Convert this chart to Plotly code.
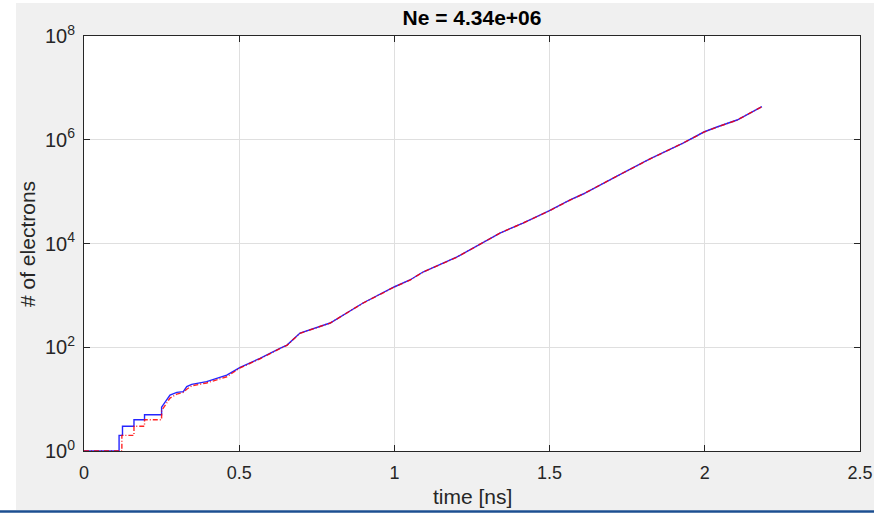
import plotly.graph_objects as go

# ---- data ----
t_blue = [0.0, 0.113, 0.113, 0.124, 0.124, 0.161, 0.161, 0.195, 0.195, 0.250, 0.250,
          0.261, 0.277, 0.299, 0.320, 0.331, 0.347, 0.395, 0.460, 0.503, 0.567,
          0.631, 0.654, 0.696, 0.793, 0.899, 0.999, 1.050, 1.092, 1.202, 1.276,
          1.340, 1.414, 1.498, 1.566, 1.608, 1.717, 1.823, 1.930, 1.997, 2.039,
          2.104, 2.184]
n_blue = [1, 1, 2, 2, 3, 3, 4, 4, 5, 5, 7,
          8.9, 12, 13.5, 13.9, 17.4, 19.3, 21.7, 29, 41, 61,
          95, 110, 188, 293, 713, 1450, 1980, 2820, 5500, 9770,
          15900, 24800, 42400, 69000, 90000, 200000, 426000, 865000, 1410000, 1760000,
          2400000, 4340000]

t_red = [0.0, 0.122, 0.122, 0.161, 0.161, 0.195, 0.195, 0.250, 0.250,
         0.261, 0.277, 0.299, 0.320, 0.331, 0.347, 0.395, 0.460, 0.503, 0.567,
         0.631, 0.654, 0.696, 0.793, 0.899, 0.999, 1.050, 1.092, 1.202, 1.276,
         1.340, 1.414, 1.498, 1.566, 1.608, 1.717, 1.823, 1.930, 1.997, 2.039,
         2.104, 2.184]
n_red = [1, 1, 2, 2, 3, 3, 4, 4, 6,
         7.5, 10.5, 12.5, 13.5, 15.5, 18, 20.5, 27, 40, 60,
         94, 109, 186, 292, 710, 1440, 1970, 2800, 5480, 9750,
         15850, 24700, 42300, 68800, 89800, 199000, 425000, 863000, 1400000, 1750000,
         2390000, 4340000]

x_ticks = [0, 0.5, 1, 1.5, 2, 2.5]
x_ticktext = ["0", "0.5", "1", "1.5", "2", "2.5"]
y_ticks = [1, 1e2, 1e4, 1e6, 1e8]
y_ticktext = ["10<sup>0</sup>", "10<sup>2</sup>", "10<sup>4</sup>", "10<sup>6</sup>", "10<sup>8</sup>"]

title_text = "Ne = 4.34e+06"
x_label = "time [ns]"
y_label = "# of electrons"

FONT = "Liberation Sans, Arial, Helvetica, sans-serif"
AX = "#262626"

fig = go.Figure()
fig.add_trace(go.Scatter(x=t_blue, y=n_blue, mode="lines",
                         line=dict(color="#0000ff", width=1.4), opacity=0.85, showlegend=False))
fig.add_trace(go.Scatter(x=t_red, y=n_red, mode="lines",
                         line=dict(color="#ff0000", width=1.4, dash="5px,2px,1px,2px"),
                         opacity=0.85, showlegend=False))

W, H = 874, 516
L, R, T, B = 84, 14, 36, 65
pw, ph = W - L - R, H - T - B

def px(X):
    return (X - L) / pw

def py(Y):
    return (H - B - Y) / ph

fig.update_layout(
    width=W, height=H,
    margin=dict(l=L, r=R, t=T, b=B),
    paper_bgcolor="#f0f0f0",
    plot_bgcolor="white",
    font=dict(family=FONT, size=18, color=AX),
    title=dict(text="<b>" + title_text + "</b>", x=0.5, xref="paper", xanchor="center",
               y=1 - 18 / H, yref="container", yanchor="middle",
               font=dict(family=FONT, size=21, color="black")),
    xaxis=dict(range=[0, 2.5], tickvals=x_ticks, ticktext=x_ticktext, automargin=False,
               showgrid=True, gridcolor="#dfdfdf", gridwidth=1,
               showline=True, linecolor=AX, linewidth=1, mirror="ticks",
               ticks="inside", ticklen=6, tickcolor=AX, zeroline=False,
               tickfont=dict(size=18, color=AX), ticklabelstandoff=5),
    yaxis=dict(type="log", range=[0, 8], tickvals=y_ticks, ticktext=y_ticktext, automargin=False,
               showgrid=True, gridcolor="#dfdfdf", gridwidth=1,
               showline=True, linecolor=AX, linewidth=1, mirror="ticks",
               ticks="inside", ticklen=6, tickcolor=AX, zeroline=False,
               tickfont=dict(size=20, color=AX), ticklabelstandoff=4),
    annotations=[
        dict(text=x_label, xref="paper", yref="paper", x=0.5, y=py(496),
             xanchor="center", yanchor="middle", showarrow=False,
             font=dict(family=FONT, size=21, color=AX)),
        dict(text=y_label, xref="paper", yref="paper", x=px(28), y=py(244),
             xanchor="center", yanchor="middle", showarrow=False, textangle=-90,
             font=dict(family=FONT, size=21, color=AX)),
    ],
    shapes=[
        dict(type="rect", xref="paper", yref="paper", x0=px(0), x1=px(16), y0=py(H), y1=py(0),
             fillcolor="white", line=dict(width=0), layer="above"),
        dict(type="rect", xref="paper", yref="paper", x0=px(0), x1=px(W), y0=py(3), y1=py(0),
             fillcolor="white", line=dict(width=0), layer="above"),
        dict(type="rect", xref="paper", yref="paper", x0=px(0), x1=px(W), y0=py(H), y1=py(510),
             fillcolor="white", line=dict(width=0), layer="above"),
        dict(type="line", xref="paper", yref="paper", x0=px(0), x1=px(W), y0=py(511.5), y1=py(511.5),
             line=dict(color="#1c4f91", width=2.5), layer="above"),
    ],
)

fig.write_html("out.html", config={"displayModeBar": False},
               post_script="document.body.style.margin='0';document.body.style.overflow='hidden';")
